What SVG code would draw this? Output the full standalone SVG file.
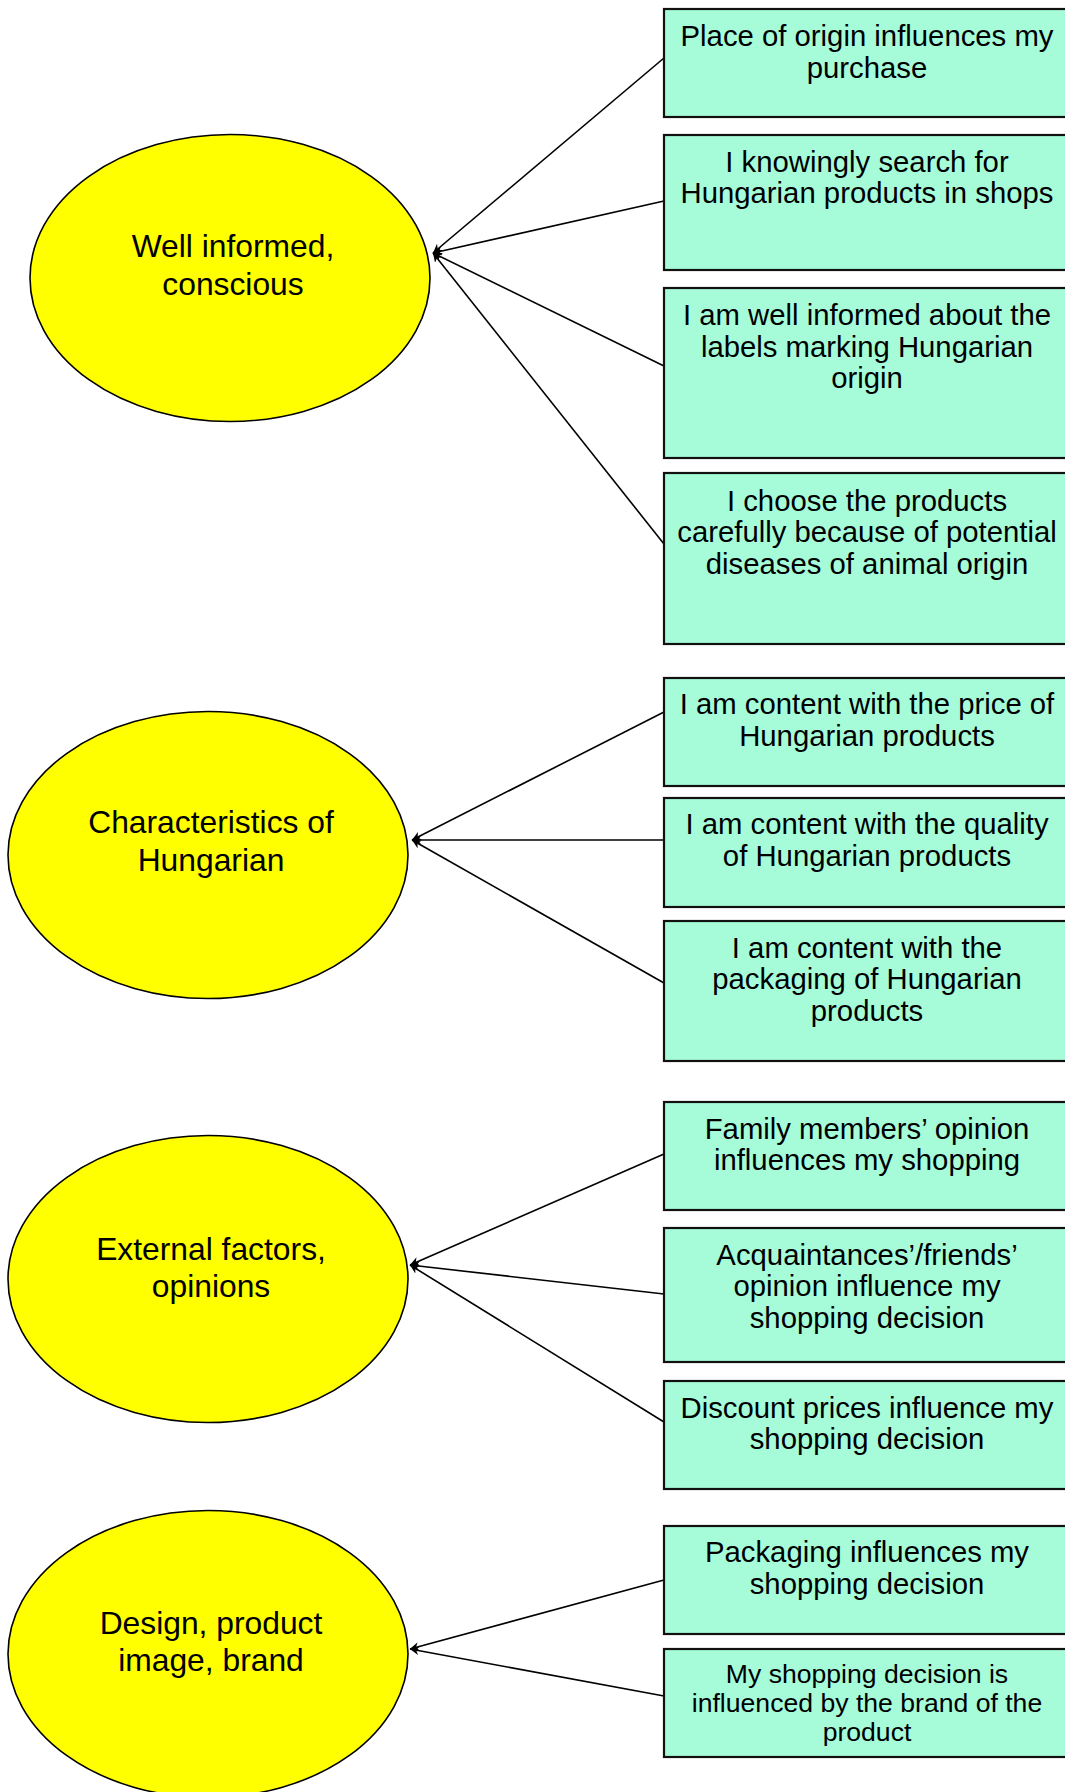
<svg xmlns="http://www.w3.org/2000/svg" width="1065" height="1792" viewBox="0 0 1065 1792">
<style>
.box{fill:#A6FCD9;stroke:#111;stroke-width:2.2}
.ell{fill:#FFFF00;stroke:#000;stroke-width:1.6}
.bt{font-family:"Liberation Sans",Arial,sans-serif;font-size:29.3px;fill:#000;text-anchor:middle}
.bts{font-family:"Liberation Sans",Arial,sans-serif;font-size:26.6px;fill:#000;text-anchor:middle}
.et{font-family:"Liberation Sans",Arial,sans-serif;font-size:31.8px;fill:#000;text-anchor:middle}
.con{stroke:#000;stroke-width:1.6;fill:none;marker-end:url(#arr)}
</style>
<defs>
<marker id="arr" viewBox="0 0 10 10" refX="10" refY="5" markerWidth="9" markerHeight="9" orient="auto" markerUnits="userSpaceOnUse">
<path d="M0,0 L10,5 L0,10 L3,5 Z" fill="#000"/>
</marker>
</defs>
<g id="connectors">
<line class="con" x1="664" y1="58" x2="433" y2="253"/>
<line class="con" x1="664" y1="201" x2="433" y2="253"/>
<line class="con" x1="664" y1="366" x2="433" y2="253"/>
<line class="con" x1="664" y1="544" x2="433" y2="253"/>
<line class="con" x1="664" y1="712" x2="412" y2="840"/>
<line class="con" x1="664" y1="840" x2="412" y2="840"/>
<line class="con" x1="664" y1="983" x2="412" y2="840"/>
<line class="con" x1="664" y1="1154" x2="410" y2="1265"/>
<line class="con" x1="664" y1="1294" x2="410" y2="1265"/>
<line class="con" x1="664" y1="1422" x2="410" y2="1265"/>
<line class="con" x1="664" y1="1580" x2="410" y2="1649"/>
<line class="con" x1="664" y1="1696" x2="410" y2="1649"/>
</g>
<g id="e1"><ellipse class="ell" cx="230" cy="278" rx="200" ry="143.5"/>
<text class="et" x="233" y="257">Well informed,</text><text class="et" x="233" y="295">conscious</text></g>
<g id="e2"><ellipse class="ell" cx="208" cy="855" rx="200" ry="143.5"/>
<text class="et" x="211" y="833">Characteristics of</text><text class="et" x="211" y="871">Hungarian</text></g>
<g id="e3"><ellipse class="ell" cx="208" cy="1279" rx="200" ry="143.5"/>
<text class="et" x="211" y="1260">External factors,</text><text class="et" x="211" y="1297">opinions</text></g>
<g id="e4"><ellipse class="ell" cx="208" cy="1654" rx="200" ry="143.5"/>
<text class="et" x="211" y="1634">Design, product</text><text class="et" x="211" y="1671">image, brand</text></g>
<g id="b1"><rect class="box" x="664" y="9" width="410" height="108"/>
<text class="bt" x="867" y="46">Place of origin influences my</text><text class="bt" x="867" y="77.5">purchase</text></g>
<g id="b2"><rect class="box" x="664" y="135" width="410" height="135"/>
<text class="bt" x="867" y="171.5">I knowingly search for</text><text class="bt" x="867" y="203">Hungarian products in shops</text></g>
<g id="b3"><rect class="box" x="664" y="288" width="410" height="170"/>
<text class="bt" x="867" y="324.5">I am well informed about the</text><text class="bt" x="867" y="356.5">labels marking Hungarian</text><text class="bt" x="867" y="388">origin</text></g>
<g id="b4"><rect class="box" x="664" y="473" width="410" height="171"/>
<text class="bt" x="867" y="510.5">I choose the products</text><text class="bt" x="867" y="542">carefully because of potential</text><text class="bt" x="867" y="574">diseases of animal origin</text></g>
<g id="b5"><rect class="box" x="664" y="678" width="410" height="108"/>
<text class="bt" x="867" y="714">I am content with the price of</text><text class="bt" x="867" y="746">Hungarian products</text></g>
<g id="b6"><rect class="box" x="664" y="798" width="410" height="109"/>
<text class="bt" x="867" y="834">I am content with the quality</text><text class="bt" x="867" y="865.5">of Hungarian products</text></g>
<g id="b7"><rect class="box" x="664" y="921" width="410" height="140"/>
<text class="bt" x="867" y="957.5">I am content with the</text><text class="bt" x="867" y="989">packaging of Hungarian</text><text class="bt" x="867" y="1020.5">products</text></g>
<g id="b8"><rect class="box" x="664" y="1102" width="410" height="108"/>
<text class="bt" x="867" y="1138.5">Family members’ opinion</text><text class="bt" x="867" y="1170">influences my shopping</text></g>
<g id="b9"><rect class="box" x="664" y="1228" width="410" height="134"/>
<text class="bt" x="867" y="1264.5">Acquaintances’/friends’</text><text class="bt" x="867" y="1296">opinion influence my</text><text class="bt" x="867" y="1327.5">shopping decision</text></g>
<g id="b10"><rect class="box" x="664" y="1381" width="410" height="108"/>
<text class="bt" x="867" y="1417.5">Discount prices influence my</text><text class="bt" x="867" y="1449">shopping decision</text></g>
<g id="b11"><rect class="box" x="664" y="1526" width="410" height="108"/>
<text class="bt" x="867" y="1562">Packaging influences my</text><text class="bt" x="867" y="1594">shopping decision</text></g>
<g id="b12"><rect class="box" x="664" y="1649" width="410" height="108"/>
<text class="bts" x="867" y="1682.5">My shopping decision is</text><text class="bts" x="867" y="1711.5">influenced by the brand of the</text><text class="bts" x="867" y="1740.5">product</text></g>
</svg>
